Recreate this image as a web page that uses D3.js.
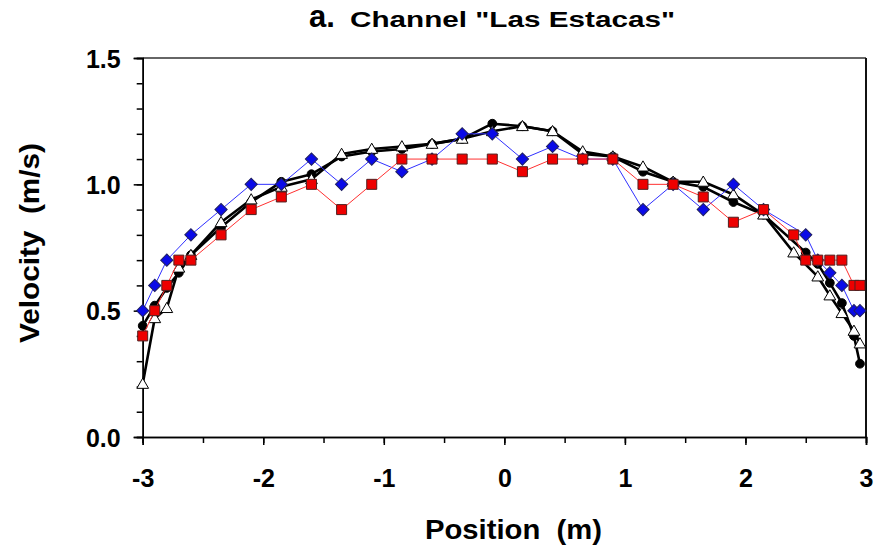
<!DOCTYPE html>
<html>
<head>
<meta charset="utf-8">
<script src="https://cdn.jsdelivr.net/npm/d3@7"></script>
<style>
  body { margin: 0; background: #fff; }
  svg text { font-family: "Liberation Sans", Arial, sans-serif; font-weight: bold; fill: #000; }
</style>
</head>
<body>
<svg id="chart" width="875" height="550"></svg>
<script>
// positions across the channel (m)
const positions = [-3, -2.9, -2.8, -2.7, -2.6, -2.35, -2.1, -1.85, -1.6, -1.35, -1.1, -0.85, -0.6, -0.35, -0.1,
  0.15, 0.4, 0.65, 0.9, 1.15, 1.4, 1.65, 1.9, 2.15, 2.4, 2.5, 2.6, 2.7, 2.8, 2.9, 2.95];

// velocities (m/s), null = no point at that position
const circleVals = [0.44, 0.52, 0.59, 0.65, 0.72, 0.83, 0.93, 1.01, 1.04, 1.11, 1.13, 1.14, 1.16, 1.18, 1.24,
  1.23, 1.21, 1.12, 1.11, 1.05, 1.01, 0.99, 0.93, 0.88, null, 0.73, 0.685, 0.61, 0.53, 0.40, 0.29];
const triangleVals = [0.21, 0.47, 0.51, 0.67, 0.72, 0.85, 0.94, 0.99, 1.02, 1.12, 1.14, 1.15, 1.16, 1.18, 1.21,
  1.23, 1.21, 1.13, 1.11, 1.07, 1.01, 1.01, 0.96, 0.88, 0.73, null, 0.635, 0.56, 0.49, 0.42, 0.37];
const blueVals = [0.5, 0.6, 0.7, null, 0.8, 0.9, 1.0, 1.0, 1.1, 1.0, 1.1, 1.05, 1.1, 1.2, 1.2,
  1.1, 1.15, 1.1, 1.1, 0.9, 1.0, 0.9, 1.0, 0.9, null, 0.8, 0.7, 0.65, 0.6, 0.5, 0.5];
const redVals = [0.4, 0.5, 0.6, 0.7, 0.7, 0.8, 0.9, 0.95, 1.0, 0.9, 1.0, 1.1, 1.1, 1.1, 1.1,
  1.05, 1.1, 1.1, 1.1, 1.0, 1.0, 0.95, 0.85, 0.9, 0.8, 0.7, 0.7, 0.7, 0.7, 0.6, 0.6];

const xTicks = [-3, -2, -1, 0, 1, 2, 3];
const yTicks = [0.0, 0.5, 1.0, 1.5];

const svg = d3.select("#chart");
const plotL = 142.7, plotR = 866, plotT = 58, plotB = 437;

const x = d3.scaleLinear().domain([-3, 3]).range([plotL, plotR]);
const y = d3.scaleLinear().domain([0, 1.5]).range([plotB, plotT]);

// frame (top + right)
svg.append("line").attr("x1", plotL).attr("x2", plotR).attr("y1", plotT).attr("y2", plotT)
  .attr("stroke", "#666").attr("stroke-width", 2);
svg.append("line").attr("x1", plotR).attr("x2", plotR).attr("y1", plotT).attr("y2", plotB)
  .attr("stroke", "#111").attr("stroke-width", 2);

// x axis
const xAxis = svg.append("g").attr("transform", `translate(0,${plotB})`);
xAxis.call(d3.axisBottom(x).tickValues(d3.range(-3, 3.01, 0.5)).tickSize(6).tickFormat(""));
xAxis.append("g").call(d3.axisBottom(x).tickValues(xTicks).tickSize(8).tickFormat(d => String(d)));
xAxis.selectAll("path.domain").attr("stroke", "#000").attr("stroke-width", 1.5);
xAxis.selectAll("line").attr("stroke", "#000").attr("stroke-width", 1.5);
xAxis.selectAll("text").attr("font-size", 25).attr("y", 50).attr("dy", 0)
  .style("font-family", "Liberation Sans, Arial").style("font-weight", "bold").style("fill", "#000");

// y axis
const yAxis = svg.append("g").attr("transform", `translate(${plotL},0)`);
yAxis.call(d3.axisLeft(y).tickValues(d3.range(0, 1.51, 0.1)).tickSize(6).tickFormat(""));
yAxis.append("g").call(d3.axisLeft(y).tickValues(yTicks).tickSize(9).tickFormat(d3.format(".1f")));
yAxis.selectAll("path.domain").attr("stroke", "#000").attr("stroke-width", 1.5);
yAxis.selectAll("line").attr("stroke", "#000").attr("stroke-width", 1.5);
yAxis.selectAll("text").attr("font-size", 25).attr("x", -22).attr("dy", "0.36em")
  .style("font-family", "Liberation Sans, Arial").style("font-weight", "bold").style("fill", "#000");

// series
const series = [
  { vals: circleVals, line: "#000", lw: 2.6, marker: "circle" },
  { vals: triangleVals, line: "#000", lw: 2.6, marker: "triangle" },
  { vals: blueVals, line: "#3030ff", lw: 1, marker: "diamond" },
  { vals: redVals, line: "#ff3030", lw: 1, marker: "square" }
];

const lineGen = d3.line().x(d => x(d[0])).y(d => y(d[1]));

series.forEach(s => {
  const pts = positions.map((p, i) => [p, s.vals[i]]).filter(d => d[1] !== null);
  const g = svg.append("g");
  g.append("path").datum(pts).attr("d", lineGen)
    .attr("fill", "none").attr("stroke", s.line).attr("stroke-width", s.lw)
    .attr("stroke-linejoin", "round");
  let sym, fill, stroke;
  if (s.marker === "circle") { sym = d3.symbol(d3.symbolCircle, 60); fill = "#000"; stroke = "#000"; }
  if (s.marker === "triangle") { sym = d3.symbol(d3.symbolTriangle, 60); fill = "#fff"; stroke = "#000"; }
  if (s.marker === "diamond") { sym = d3.symbol(d3.symbolSquare, 75); fill = "#0a0ae8"; stroke = "#202060"; }
  if (s.marker === "square") { sym = d3.symbol(d3.symbolSquare, 100); fill = "#ee0000"; stroke = "#502020"; }
  g.selectAll("path.m").data(pts).enter().append("path").attr("class", "m")
    .attr("d", sym)
    .attr("transform", d => `translate(${x(d[0])},${y(d[1]) + (s.marker === "triangle" ? 1 : 0)})` +
      (s.marker === "diamond" ? " rotate(45)" : ""))
    .attr("fill", fill).attr("stroke", stroke).attr("stroke-width", 1);
});

// titles
const title = svg.append("text").attr("x", 309).attr("y", 27);
title.append("tspan").attr("font-size", 31).text("a.");
title.append("tspan").attr("x", 350).attr("font-size", 22)
  .attr("textLength", 325).attr("lengthAdjust", "spacingAndGlyphs").text("Channel \"Las Estacas\"");

svg.append("text").attr("x", 425).attr("y", 539).attr("font-size", 27)
  .attr("textLength", 177).attr("lengthAdjust", "spacingAndGlyphs").text("Position\u00a0\u00a0(m)");

svg.append("text").attr("transform", "translate(39,343) rotate(-90)").attr("font-size", 28)
  .attr("textLength", 200).attr("lengthAdjust", "spacingAndGlyphs").text("Velocity\u00a0\u00a0(m/s)");
</script>
</body>
</html>
